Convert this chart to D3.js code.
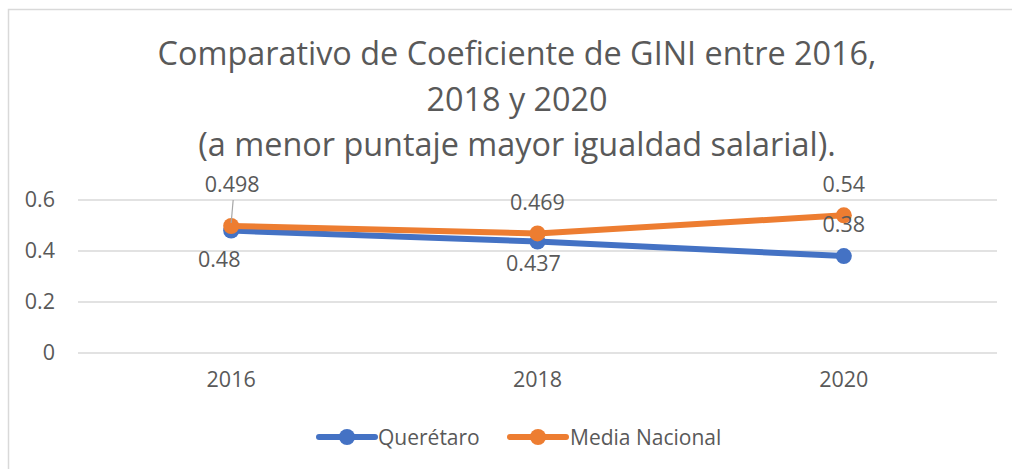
<!DOCTYPE html>
<html>
<head>
<meta charset="utf-8">
<script src="https://cdn.jsdelivr.net/npm/d3@7"></script>
<style>
  html, body { margin: 0; padding: 0; background: #fff; }
  svg { display: block; }
  text { font-family: "Open Sans", sans-serif; fill: #595959; }
</style>
</head>
<body>
<svg id="chart" width="1012" height="469"></svg>
<script>
// ---- data ----
const categories = ["2016", "2018", "2020"];
const queretaro = [0.48, 0.437, 0.38];
const mediaNacional = [0.498, 0.469, 0.54];
const yTicks = [0, 0.2, 0.4, 0.6];
const seriesNames = ["Querétaro", "Media Nacional"];
const titleLines = [
  "Comparativo de Coeficiente de GINI entre 2016,",
  "2018 y 2020",
  "(a menor puntaje mayor igualdad salarial)."
];

// ---- layout / style ----
const colors = ["#4472C4", "#ED7D31"];
const labelOffsets = [
  [{dx: -12, dy: 28}, {dx: -4, dy: 21}, {dx: 0, dy: -33}],
  [{dx: 1, dy: -43}, {dx: 0, dy: -32}, {dx: 0, dy: -32}]
];
const fs = "21.5px";

const svg = d3.select("#chart");
const W = 1012, H = 469;

svg.append("rect")
  .attr("x", 8.5).attr("y", 9.5)
  .attr("width", W + 10).attr("height", H + 10)
  .attr("fill", "#fff").attr("stroke", "#d9d9d9").attr("stroke-width", 1.5);

const titleY = [65, 110.5, 156];
titleLines.forEach((t, i) => {
  svg.append("text")
    .attr("x", 517).attr("y", titleY[i])
    .attr("text-anchor", "middle")
    .style("font-size", "32.4px")
    .text(t);
});

const plot = {left: 78, right: 997, top: 200, bottom: 353};
const x = d3.scaleBand().domain(categories).range([plot.left, plot.right]);
const y = d3.scaleLinear().domain([0, 0.6]).range([plot.bottom, plot.top]);

svg.append("g").selectAll("line").data(yTicks).join("line")
  .attr("x1", plot.left).attr("x2", plot.right)
  .attr("y1", d => y(d)).attr("y2", d => y(d))
  .attr("stroke", "#d9d9d9").attr("stroke-width", 1.5);

const yAxis = d3.axisLeft(y).tickValues(yTicks).tickFormat(d => d === 0 ? "0" : d3.format(".1f")(d)).tickSize(0).tickPadding(0);
const gy = svg.append("g").attr("transform", `translate(55,0)`).call(yAxis);
gy.select(".domain").remove();
gy.selectAll("text").style("font-size", fs).attr("fill", "#595959").style("font-family", null);

const xAxis = d3.axisBottom(x).tickSize(0).tickPadding(0);
const gx = svg.append("g").attr("transform", `translate(0,${plot.bottom + 19})`).call(xAxis);
gx.select(".domain").remove();
gx.selectAll("text").style("font-size", fs).attr("fill", "#595959").style("font-family", null);

const cx = c => x(c) + x.bandwidth() / 2;
const allSeries = [queretaro, mediaNacional];
const line = d3.line().x((d, i) => cx(categories[i])).y(d => y(d));

allSeries.forEach((vals, s) => {
  svg.append("path").datum(vals)
    .attr("d", line)
    .attr("fill", "none")
    .attr("stroke", colors[s]).attr("stroke-width", 6)
    .attr("stroke-linecap", "round").attr("stroke-linejoin", "round");
  svg.append("g").selectAll("circle").data(vals).join("circle")
    .attr("cx", (d, i) => cx(categories[i]))
    .attr("cy", d => y(d))
    .attr("r", 8)
    .attr("fill", colors[s]);
});

svg.append("line")
  .attr("x1", cx(categories[0]) + 2).attr("y1", 200)
  .attr("x2", cx(categories[0])).attr("y2", y(mediaNacional[0]) - 3)
  .attr("stroke", "#a6a6a6").attr("stroke-width", 1.2);

allSeries.forEach((vals, s) => {
  svg.append("g").selectAll("text").data(vals).join("text")
    .attr("x", (d, i) => cx(categories[i]) + labelOffsets[s][i].dx)
    .attr("y", (d, i) => y(d) + labelOffsets[s][i].dy)
    .attr("text-anchor", "middle")
    .attr("dominant-baseline", "central")
    .style("font-size", fs)
    .text(d => String(d));
});

const legendItems = [{x1: 319, x2: 375, tx: 378}, {x1: 510, x2: 566, tx: 570}];
const ly = 437;
seriesNames.forEach((name, s) => {
  const li = legendItems[s];
  svg.append("line")
    .attr("x1", li.x1).attr("x2", li.x2).attr("y1", ly).attr("y2", ly)
    .attr("stroke", colors[s]).attr("stroke-width", 6).attr("stroke-linecap", "round");
  svg.append("circle").attr("cx", (li.x1 + li.x2) / 2).attr("cy", ly).attr("r", 8).attr("fill", colors[s]);
  svg.append("text").attr("x", li.tx).attr("y", ly)
    .attr("dominant-baseline", "central")
    .style("font-size", "21px")
    .text(name);
});
</script>
</body>
</html>
